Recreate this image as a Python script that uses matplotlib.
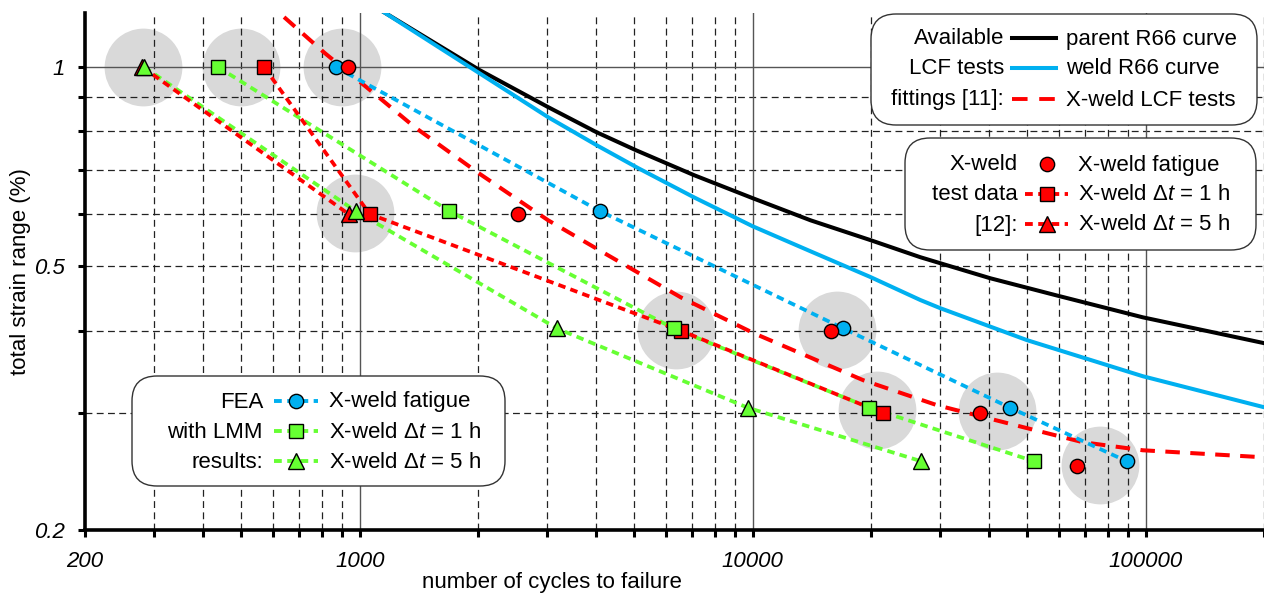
import matplotlib
matplotlib.use("Agg")
import matplotlib.pyplot as plt
from matplotlib.patches import FancyBboxPatch
from matplotlib.lines import Line2D
from matplotlib.ticker import FixedLocator, NullFormatter

plt.rcParams['font.family'] = ['Liberation Sans', 'DejaVu Sans']
plt.rcParams['mathtext.fontset'] = 'custom'
plt.rcParams['mathtext.rm'] = 'Liberation Sans'
plt.rcParams['mathtext.it'] = 'Liberation Sans:italic'

RED = '#FF0000'
BLUE = '#00B0F0'
GREEN = '#66FF33'
SPOT = '#D9D9D9'
FS = 16

# available LCF test fittings [11]
parent_N = [1151, 2017, 3018, 3995, 5047, 7084, 10000, 14040, 19930, 26690, 31260, 40190, 59430, 98260, 200000]
parent_e = [1.211, 0.990, 0.870, 0.798, 0.749, 0.687, 0.634, 0.587, 0.548, 0.5164, 0.502, 0.480, 0.452, 0.419, 0.383]
weld_N = [1151, 1958, 3018, 4043, 5107, 7084, 10000, 14040, 19930, 26690, 30010, 49890, 98260, 200000]
weld_e = [1.211, 0.990, 0.840, 0.760, 0.704, 0.636, 0.575, 0.527, 0.482, 0.445, 0.4325, 0.387, 0.3414, 0.3065]
lcf_N = [642, 815, 1117, 1379, 2005, 3018, 4186, 6567, 10060, 19130, 29480, 48730, 69190, 98260, 200000]
lcf_e = [1.19, 1.05, 0.901, 0.812, 0.692, 0.587, 0.524, 0.449, 0.3965, 0.3366, 0.3086, 0.286, 0.2714, 0.2639, 0.2575]

# X-weld test data [12]
test_fat_N = [932, 2530, 15780, 37900, 66830]
test_fat_e = [1.0, 0.6, 0.4, 0.3, 0.25]
test_1h_N = [571, 1060, 6560, 21500]
test_1h_e = [1.0, 0.6, 0.4, 0.3]
test_5h_N = [280, 937]
test_5h_e = [1.0, 0.6]

# FEA with LMM results
fea_fat_N = [869, 4089, 17020, 45170, 89500]
fea_fat_e = [1.0, 0.606, 0.403, 0.306, 0.254]
fea_1h_N = [436, 1692, 6302, 19820, 51960]
fea_1h_e = [1.0, 0.606, 0.403, 0.306, 0.254]
fea_5h_N = [283, 977, 3181, 9712, 26850]
fea_5h_e = [1.0, 0.606, 0.403, 0.306, 0.254]

# grey highlight spots
spot_N = [281, 499, 900, 971, 6376, 16430, 20770, 41860, 76420]
spot_e = [1.0, 1.0, 1.0, 0.602, 0.401, 0.401, 0.304, 0.303, 0.251]

x_major = [200, 1000, 10000, 100000]
x_major_labels = ['200', '1000', '10000', '100000']
y_major = [0.2, 0.5, 1]
y_major_labels = ['0.2', '0.5', '1']

DOT = (0, (2.0, 1.4))
DASH = (0, (3.6, 2.6))

fig = plt.figure(figsize=(12.64, 5.95), dpi=100)
ax = fig.add_axes([85 / 1264, 65 / 595, 1179 / 1264, 517 / 595])
ax.set_xscale('log')
ax.set_yscale('log')
ax.set_xlim(200, 200000)
ax.set_ylim(0.2, 1.207)

# grid
x_minor = [k * 10 ** d for d in (2, 3, 4) for k in range(2, 10) if k * 10 ** d > 200]
x_minor.append(200000)
y_minor = [0.3, 0.4, 0.6, 0.7, 0.8, 0.9]
for v in x_minor:
    ax.axvline(v, color='#222222', lw=0.9, ls=(0, (5.5, 3.5)), zorder=1)
for v in [0.3, 0.4, 0.5, 0.6, 0.7, 0.8, 0.9]:
    ax.axhline(v, color='#222222', lw=0.9, ls=(0, (5.5, 3.5)), zorder=1)
for v in [1000, 10000, 100000]:
    ax.axvline(v, color='#555555', lw=1.0, zorder=1)
ax.axhline(1.0, color='#555555', lw=1.0, zorder=1)

ax.plot(spot_N, spot_e, 'o', ms=56, color=SPOT, mec='none', zorder=0.5)

ax.plot(parent_N, parent_e, color='black', lw=2.9, zorder=2, solid_joinstyle='round')
ax.plot(weld_N, weld_e, color=BLUE, lw=2.9, zorder=2, solid_joinstyle='round')
ax.plot(lcf_N, lcf_e, color=RED, lw=2.9, ls=DASH, zorder=2)

ax.plot(fea_fat_N, fea_fat_e, color=BLUE, lw=2.7, ls=DOT, zorder=3)
ax.plot(fea_1h_N, fea_1h_e, color=GREEN, lw=2.7, ls=DOT, zorder=3)
ax.plot(fea_5h_N, fea_5h_e, color=GREEN, lw=2.7, ls=DOT, zorder=3)
ax.plot(test_1h_N, test_1h_e, color=RED, lw=2.7, ls=DOT, zorder=3)
ax.plot(test_5h_N, test_5h_e, color=RED, lw=2.7, ls=DOT, zorder=3)

mk = dict(ls='none', mec='black', mew=1.0)
ax.plot(fea_fat_N, fea_fat_e, 'o', ms=10.3, mfc=BLUE, zorder=4, **mk)
ax.plot(test_fat_N, test_fat_e, 'o', ms=10.3, mfc=RED, zorder=4, **mk)
ax.plot(test_1h_N, test_1h_e, 's', ms=10.3, mfc=RED, zorder=4, **mk)
ax.plot(test_5h_N, test_5h_e, '^', ms=11.5, mfc=RED, zorder=4, **mk)
ax.plot(fea_1h_N, fea_1h_e, 's', ms=10.3, mfc=GREEN, zorder=5, **mk)
ax.plot(fea_5h_N, fea_5h_e, '^', ms=11.5, mfc=GREEN, zorder=5, **mk)

# axes styling
for s in ['top', 'right']:
    ax.spines[s].set_visible(False)
for s in ['left', 'bottom']:
    ax.spines[s].set_linewidth(2.6)
ax.xaxis.set_major_locator(FixedLocator(x_major))
ax.xaxis.set_minor_locator(FixedLocator(x_minor))
ax.yaxis.set_major_locator(FixedLocator(y_major))
ax.yaxis.set_minor_locator(FixedLocator(y_minor))
ax.set_xticklabels(x_major_labels, fontsize=FS, style='italic')
ax.set_yticklabels(y_major_labels, fontsize=FS, style='italic')
ax.xaxis.set_minor_formatter(NullFormatter())
ax.yaxis.set_minor_formatter(NullFormatter())
ax.tick_params(which='both', direction='out', length=5.2, width=2.2)
ax.tick_params(axis='x', which='major', pad=10)
ax.tick_params(axis='y', which='major', pad=9)

ax.set_xlabel('number of cycles to failure', fontsize=FS)
ax.xaxis.set_label_coords(0.396, -0.082)
ax.set_ylabel('total strain range (%)', fontsize=FS)
ax.yaxis.set_label_coords(-0.046, 0.5)

# legend boxes drawn in pixel positions (inches at 100 dpi)
tr = fig.dpi_scale_trans


def P(x, y):
    return x / 100.0, (595 - y) / 100.0


def box(x0, y0, x1, y1):
    a, b = P(x0, y1)
    w = (x1 - x0) / 100.0
    h = (y1 - y0) / 100.0
    fig.add_artist(FancyBboxPatch((a, b), w, h, boxstyle='round,pad=0,rounding_size=0.25',
                                  transform=tr, fc='white', ec='#333333', lw=1.0, zorder=10))


def row(y, left, xl, right, xr, h0, h1, color, ls=None, lw=2.8, marker=None, ms=10.3):
    fig.text(*P(xl, y + 1), left, transform=tr, ha='right', va='center', fontsize=FS, zorder=11)
    fig.text(*P(xr, y + 1), right, transform=tr, ha='left', va='center', fontsize=FS, zorder=11)
    if ls is not None:
        xa, ya = P(h0, y)
        xb, yb = P(h1, y)
        fig.add_artist(Line2D([xa, xb], [ya, yb], transform=tr, color=color, lw=lw, ls=ls, zorder=11))
    if marker is not None:
        xm, ym = P((h0 + h1) / 2.0, y)
        fig.add_artist(Line2D([xm], [ym], transform=tr, ls='none', marker=marker, ms=ms,
                              mfc=color, mec='black', mew=1.0, zorder=12))


box(871, 14, 1257, 125)
row(38, 'Available', 1004, 'parent R66 curve', 1066, 1012, 1056, 'black', ls='-', lw=2.9)
row(68, 'LCF tests', 1004, 'weld R66 curve', 1066, 1012, 1056, BLUE, ls='-', lw=2.9)
row(99, 'fittings [11]:', 1004, 'X-weld LCF tests', 1066, 1012, 1056, RED, ls=(0, (4, 3)))

box(905, 138, 1256, 250)
row(164, 'X-weld', 1018, 'X-weld fatigue', 1078, 1025, 1068, RED, marker='o')
row(194, 'test data', 1018, r'X-weld Δ$t$ = 1 h', 1078, 1025, 1068, RED, ls=DOT, marker='s')
row(224, '[12]:', 1018, r'X-weld Δ$t$ = 5 h', 1078, 1025, 1068, RED, ls=DOT, marker='^', ms=11.5)

box(132, 376, 505, 486)
row(401, 'FEA', 263, 'X-weld fatigue', 329, 274, 318, BLUE, ls=DOT, marker='o')
row(431, 'with LMM', 263, r'X-weld Δ$t$ = 1 h', 329, 274, 318, GREEN, ls=DOT, marker='s')
row(461, 'results:', 263, r'X-weld Δ$t$ = 5 h', 329, 274, 318, GREEN, ls=DOT, marker='^', ms=11.5)

fig.savefig('out.png', dpi=100)
